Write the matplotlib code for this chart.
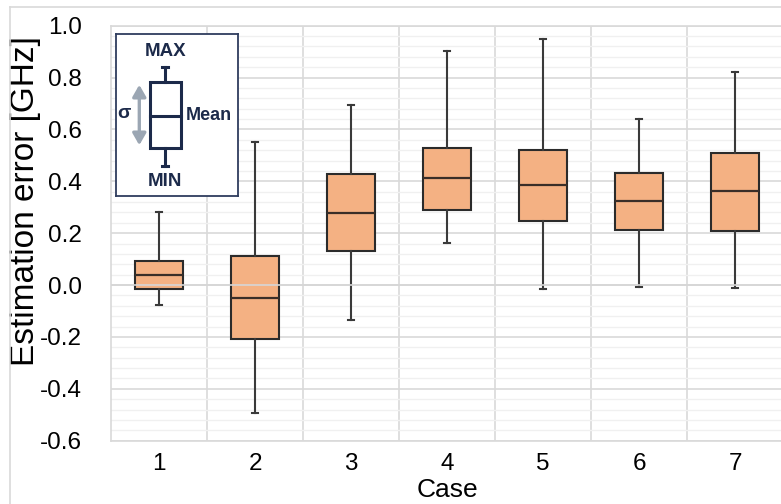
import matplotlib
matplotlib.use("Agg")
import matplotlib.pyplot as plt
from matplotlib.lines import Line2D
from matplotlib.patches import Rectangle, FancyArrowPatch

plt.rcParams['font.family'] = ['Liberation Sans', 'DejaVu Sans']
plt.rcParams['axes.unicode_minus'] = False

# ---- data ----
cases = [1, 2, 3, 4, 5, 6, 7]
case_labels = ['1', '2', '3', '4', '5', '6', '7']
maxs = [0.280, 0.552, 0.694, 0.902, 0.949, 0.641, 0.821]
q3s = [0.094, 0.112, 0.429, 0.528, 0.522, 0.433, 0.511]
meds = [0.040, -0.049, 0.278, 0.412, 0.385, 0.325, 0.361]
q1s = [-0.017, -0.209, 0.130, 0.289, 0.247, 0.213, 0.208]
mins = [-0.077, -0.492, -0.135, 0.162, -0.017, -0.008, -0.013]
yticks = [-0.6, -0.4, -0.2, 0.0, 0.2, 0.4, 0.6, 0.8, 1.0]
ytick_labels = ['-0.6', '-0.4', '-0.2', '0.0', '0.2', '0.4', '0.6', '0.8', '1.0']

W, H = 781, 504
fig = plt.figure(figsize=(W / 100, H / 100), dpi=100)

# outer chart border (top/left visible)
fig.add_artist(Line2D([10 / W, 1.0], [1 - 7 / H, 1 - 7 / H], color='#d9d9d9', lw=1.2))
fig.add_artist(Line2D([10 / W, 10 / W], [0, 1 - 7 / H], color='#d9d9d9', lw=1.2))

ax_l, ax_r, ax_t, ax_b = 111, 783, 25.7, 440.7
ax = fig.add_axes([ax_l / W, 1 - ax_b / H, (ax_r - ax_l) / W, (ax_b - ax_t) / H])

stats = []
for c, lo, a, m, b, hi in zip(case_labels, mins, q1s, meds, q3s, maxs):
    stats.append(dict(label=c, whislo=lo, q1=a, med=m, q3=b, whishi=hi, fliers=[]))

ax.bxp(stats, positions=cases, widths=0.5, patch_artist=True, showfliers=False,
       capwidths=0.065,
       boxprops=dict(facecolor='#F4B183', edgecolor='#2b2b2b', linewidth=1.5),
       medianprops=dict(color='#3a2e28', linewidth=1.6),
       whiskerprops=dict(color='#3a3a3a', linewidth=1.5),
       capprops=dict(color='#3a3a3a', linewidth=1.5))

ax.set_xlim(0.5, 7.5)
ax.set_ylim(-0.6, 1.0)
ax.set_yticks(yticks)
ax.set_yticklabels(ytick_labels)
ax.set_yticks([v / 100 for v in range(-60, 101, 4)], minor=True)
ax.set_xticks(cases)
ax.set_xticklabels(case_labels)
ax.set_xticks([c + 0.5 for c in cases[:-1]], minor=True)

ax.grid(which='minor', axis='y', color='#f0f0f0', lw=1.0, zorder=0)
ax.grid(which='major', axis='y', color='#d9d9d9', lw=1.2, zorder=0)
ax.grid(which='minor', axis='x', color='#d9d9d9', lw=1.2, zorder=0)
ax.set_axisbelow(True)
# zero line drawn over boxes
ax.axhline(0.0, color='#d6d6d6', lw=1.2, zorder=5)

for s in ax.spines.values():
    s.set_color('#d9d9d9')
    s.set_linewidth(1.2)

ax.tick_params(axis='both', which='both', length=0, labelsize=17.5, colors='#000000')
ax.tick_params(axis='y', pad=21)
ax.tick_params(axis='x', pad=9)
ax.set_ylabel('Estimation error [GHz]', fontsize=24, labelpad=2)
ax.set_xlabel('Case', fontsize=19, labelpad=0)
axw = ax_r - ax_l
axh = ax_b - ax_t
ax.yaxis.set_label_coords((41 - ax_l) / axw, (ax_b - 201) / axh)
ax.xaxis.set_label_coords((447 - ax_l) / axw, -(478 - ax_b) / axh)

# ---- schematic legend inset (pixel coordinates) ----
x0, y0, x1, y1 = 115.7, 34, 238, 196
iax = fig.add_axes([x0 / W, 1 - y1 / H, (x1 - x0) / W, (y1 - y0) / H])
iax.set_xlim(x0, x1)
iax.set_ylim(y1, y0)
iax.set_xticks([])
iax.set_yticks([])
iax.set_facecolor('white')
navy = '#1c2a4a'
for s in iax.spines.values():
    s.set_color('#2f3d5e')
    s.set_linewidth(1.3)

bx0, bx1, by0, by1 = 150, 180.7, 81.7, 148.3
cx = (bx0 + bx1) / 2
iax.add_patch(Rectangle((bx0, by0), bx1 - bx0, by1 - by0, fill=False, edgecolor=navy, lw=2.2))
iax.plot([bx0, bx1], [115.7, 115.7], color=navy, lw=2.2)
iax.plot([cx, cx], [66.7, by0], color=navy, lw=2.2)
iax.plot([cx, cx], [by1, 165.7], color=navy, lw=2.2)
iax.plot([cx - 3, cx + 3], [66.7, 66.7], color=navy, lw=2.2)
iax.plot([cx - 3, cx + 3], [165.7, 165.7], color=navy, lw=2.2)
iax.add_patch(FancyArrowPatch((139.3, 82), (139.3, 148), arrowstyle='<|-|>,head_length=7,head_width=4',
                              color='#9ba6b3', lw=2.4, mutation_scale=1))
iax.text(cx, 51, 'MAX', ha='center', va='center', fontsize=13.5, fontweight='bold', color=navy)
iax.text(cx, 181.5, 'MIN', ha='center', va='center', fontsize=13.5, fontweight='bold', color=navy)
iax.text(bx1 + 5, 115.7, 'Mean', ha='left', va='center', fontsize=13, fontweight='bold', color=navy)
iax.text(123.5, 113, 'σ', ha='center', va='center', fontsize=14, fontweight='bold', color=navy)

fig.savefig('out.png', dpi=100)
